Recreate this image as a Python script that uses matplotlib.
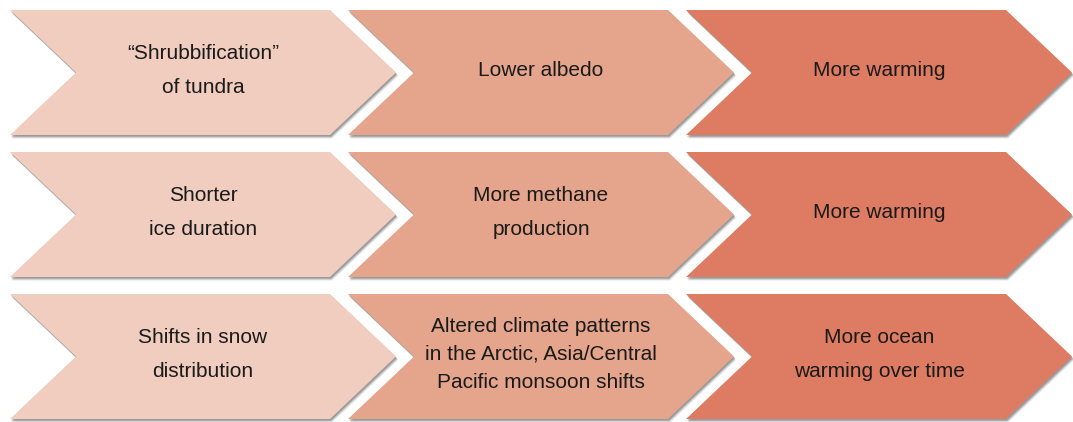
import matplotlib
matplotlib.use("Agg")
import matplotlib.pyplot as plt
from matplotlib.patches import Polygon
from matplotlib import font_manager

# chevron labels, one list per column (rows top to bottom)
causes = ["\u201cShrubbification\u201d\nof tundra", "Shorter\nice duration", "Shifts in snow\ndistribution"]
effects = ["Lower albedo", "More methane\nproduction",
           "Altered climate patterns\nin the Arctic, Asia/Central\nPacific monsoon shifts"]
results = ["More warming", "More warming", "More ocean\nwarming over time"]
columns = [causes, effects, results]
col_colors = ["#F0CDBE", "#E4A58C", "#DE7C63"]

names = {f.name for f in font_manager.fontManager.ttflist}
if "Liberation Sans Narrow" in names:
    family, fsize = "Liberation Sans Narrow", 17
else:
    family, fsize = "Liberation Sans", 15

W, H = 1073, 422
fig = plt.figure(figsize=(W / 100, H / 100), dpi=100)
ax = fig.add_axes([0, 0, 1, 1])
ax.set_xlim(0, W)
ax.set_ylim(H, 0)
ax.axis("off")

col_left = [10, 348, 686]
row_top = [10, 152, 294]
w, h, d = 320, 125, 66


def chevron(x0, y0):
    return [(x0, y0), (x0 + w, y0), (x0 + w + d, y0 + h / 2), (x0 + w, y0 + h),
            (x0, y0 + h), (x0 + d, y0 + h / 2)]


for ci, labels in enumerate(columns):
    for ri, label in enumerate(labels):
        x0, y0 = col_left[ci], row_top[ri]
        pts = chevron(x0, y0)
        # soft shadow
        for k, a in [(3.5, 0.15), (2.5, 0.25), (1.5, 0.35)]:
            sh = [(x + k * 0.6, y + k) for x, y in pts]
            ax.add_patch(Polygon(sh, closed=True, fc="#555555", ec="none", alpha=a))
        ax.add_patch(Polygon(pts, closed=True, fc=col_colors[ci], ec="none"))
        nlines = label.count("\n") + 1
        ax.text(x0 + (w + d) / 2, y0 + h / 2 - 2, label, ha="center", va="center",
                fontsize=fsize, family=family, color="#1a1a1a",
                linespacing=(28 if nlines > 2 else 35) / (1.176 * fsize))

fig.savefig("out.png", dpi=100)
